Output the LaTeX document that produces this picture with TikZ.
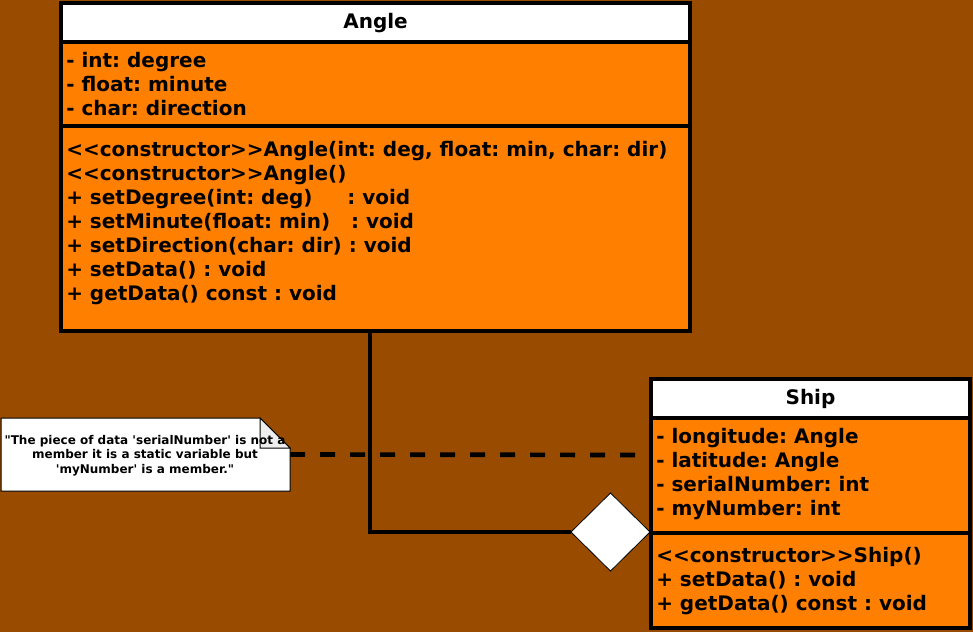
\documentclass[tikz,border=0pt]{standalone}
\usepackage{fontspec}
\newfontfamily\umlfont{DejaVu Sans}
\usetikzlibrary{shapes.geometric}
\definecolor{bgbrown}{RGB}{153,76,0}
\definecolor{umlorange}{RGB}{255,128,0}
\definecolor{foldgray}{RGB}{238,238,238}
\begin{document}
\frenchspacing
\begin{tikzpicture}[x=0.75pt,y=-0.75pt,
  comp/.style={draw=black, line width=3.5pt, inner sep=0pt, outer sep=0pt, anchor=north west},
  linetxt/.style={inner sep=0pt, anchor=base west, font=\umlfont\bfseries\frenchspacing\fontsize{15pt}{18pt}\selectfont},
  titletxt/.style={inner sep=0pt, anchor=base, font=\umlfont\bfseries\frenchspacing\fontsize{15pt}{18pt}\selectfont},
  notetxt/.style={inner sep=0pt, anchor=base, font=\umlfont\bfseries\frenchspacing\fontsize{9pt}{11pt}\selectfont},
  conn/.style={line width=3.5pt, draw=black},
  dashconn/.style={conn, dash pattern=on 11.25pt off 11.25pt},
  notebox/.style={draw=black, line width=0.75pt}]
\fill[bgbrown] (0,0) rectangle (973,632);
\useasboundingbox (0,0) rectangle (973,632);

\node[minimum width=216.75pt, minimum height=54.75pt, inner sep=0pt, outer sep=0pt] (note) at (145.5,454.5) {};
\coordinate (dashend) at (637,455);
\coordinate (bend) at (370,532);

% Angle class
\node[comp, fill=white, minimum width=471.75pt, minimum height=29.25pt] (angleH) at (61,3) {};
\node[comp, fill=umlorange, minimum width=471.75pt, minimum height=63pt] (angleA) at (61,42) {};
\node[comp, fill=umlorange, minimum width=471.75pt, minimum height=153.75pt] (angleM) at (61,126) {};
\node[titletxt] (angleT) at (375.5,28) {Angle};
\node[linetxt] (aa1) at (66,67) {- int: degree};
\node[linetxt] (aa2) at (66,91) {- float: minute};
\node[linetxt] (aa3) at (66,115) {- char: direction};
\node[linetxt] (am1) at (66,156) {<<constructor>>Angle(int: deg, float: min, char: dir)};
\node[linetxt] (am2) at (66,180) {<<constructor>>Angle()};
\node[linetxt] (am3) at (66,204) {+ setDegree(int: deg)\ \ \ \ \ : void};
\node[linetxt] (am4) at (66,228) {+ setMinute(float: min)\ \ \ : void};
\node[linetxt] (am5) at (66,252) {+ setDirection(char: dir) : void};
\node[linetxt] (am6) at (66,276) {+ setData() : void};
\node[linetxt] (am7) at (66,300) {+ getData() const : void};

% Ship class
\node[comp, fill=white, minimum width=239.25pt, minimum height=29.25pt] (shipH) at (651,379) {};
\node[comp, fill=umlorange, minimum width=239.25pt, minimum height=86.25pt] (shipA) at (651,418) {};
\node[comp, fill=umlorange, minimum width=239.25pt, minimum height=71.25pt] (shipM) at (651,533) {};
\node[titletxt] (shipT) at (810.5,404) {Ship};
\node[linetxt] (sa1) at (656,443) {- longitude: Angle};
\node[linetxt] (sa2) at (656,467) {- latitude: Angle};
\node[linetxt] (sa3) at (656,491) {- serialNumber: int};
\node[linetxt] (sa4) at (656,515) {- myNumber: int};
\node[linetxt] (sm1) at (656,562) {<<constructor>>Ship()};
\node[linetxt] (sm2) at (656,586) {+ setData() : void};
\node[linetxt] (sm3) at (656,610) {+ getData() const : void};

% composition connector
\coordinate (diaC) at (610.5,532);
\node[inner sep=0pt, outer sep=0pt, minimum width=59.25pt, minimum height=58.5pt, diamond] (dia) at (diaC) {};
\draw[conn] (angleM.south -| bend) |- (dia.west);
\node[diamond, draw=black, line width=0.6pt, fill=white, inner sep=0pt, outer sep=0pt,
      minimum width=59.25pt, minimum height=58.5pt] (diaShape) at (diaC) {};

% note
\draw[dashconn] (note.east) -- (dashend);
\filldraw[notebox, fill=white] (note.south west) -- (note.north west) -- ([xshift=-22.5pt]note.north east)
  -- ([yshift=-22.5pt]note.north east) -- (note.south east) -- cycle;
\filldraw[notebox, fill=foldgray] ([xshift=-22.5pt]note.north east) -- ([xshift=-22.5pt,yshift=-22.5pt]note.north east)
  -- ([yshift=-22.5pt]note.north east) -- cycle;
\node[notetxt] (n1) at (145,444) {"The piece of data 'serialNumber' is not a};
\node[notetxt] (n2) at (145,458.5) {member it is a static variable but};
\node[notetxt] (n3) at (145,473) {'myNumber' is a member."};
\end{tikzpicture}
\end{document}
